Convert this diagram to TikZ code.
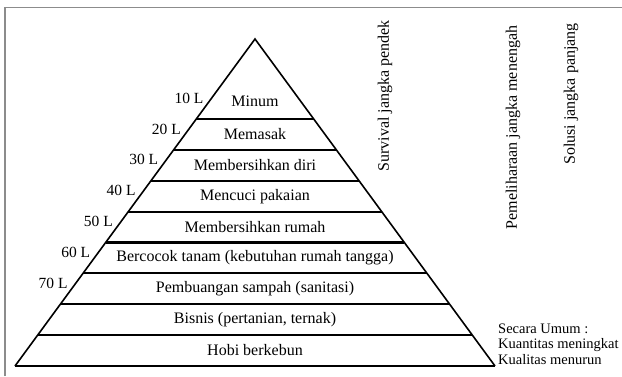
\documentclass[tikz,border=0pt]{standalone}
\usepackage{fontspec}
\setmainfont{Liberation Serif}
\usetikzlibrary{calc}
\begin{document}
\begin{tikzpicture}[x=1pt,y=-1pt,
  side/.style={line width=1.6pt, line join=miter},
  divider/.style={line width=2.2pt},
  band/.style={font=\fontsize{16}{18}\selectfont, inner sep=0pt},
  vol/.style={font=\fontsize{15.5}{17}\selectfont, inner sep=0pt, anchor=south east},
  vert/.style={font=\fontsize{16}{18}\selectfont, rotate=90, inner sep=0pt},
  note/.style={font=\fontsize{14.5}{15.5}\selectfont, align=left, anchor=west, inner sep=0pt},
  frame/.style={draw=black!45, line width=1.4pt}]
\useasboundingbox (0,0) rectangle (622,376);
% frame
\coordinate (f1) at (5,376);
\coordinate (f2) at (5,7.5);
\coordinate (f3) at (622,7.5);
\draw[frame] (f1) -- (f2) -- (f3);
% pyramid
\coordinate (apex) at (255,39);
\coordinate (bl) at (15,366);
\coordinate (br) at (495,366);
\draw[side] (bl) -- (apex) -- (br);
\draw[divider] (bl) -- (br);
\foreach \k in {0,...,7}{
  \pgfmathsetmacro{\yy}{119+30.875*\k}
  \pgfmathsetmacro{\tt}{(\yy-39)/327}
  \coordinate (l\k) at ($(apex)!\tt!(bl)$);
  \coordinate (r\k) at ($(apex)!\tt!(br)$);
  \draw[divider] (l\k) -- (r\k);
}
% volume labels
\foreach \k/\lab in {0/10,1/20,2/30,3/40,4/50,5/60,6/70}{
  \pgfmathsetmacro{\yy}{119+30.875*\k-15.5}
  \pgfmathsetmacro{\tt}{(\yy-39)/327}
  \coordinate (v\k) at ($(apex)!\tt!(bl)$);
  \node[vol] (lab\k) at ($(v\k)+(-4,0)$) {\lab\ L};
}
% band texts
\node[band] (t0) at (255,101) {Minum};
\node[band] (t1) at (255,134.4) {Memasak};
\node[band] (t2) at (255,165.3) {Membersihkan diri};
\node[band] (t3) at (255,196.2) {Mencuci pakaian};
\node[band] (t4) at (255,227) {Membersihkan rumah};
\node[band] (t5) at (255,257.9) {Bercocok tanam (kebutuhan rumah tangga)};
\node[band] (t6) at (255,288.8) {Pembuangan sampah (sanitasi)};
\node[band] (t7) at (255,319.7) {Bisnis (pertanian, ternak)};
\node[band] (t8) at (255,350.5) {Hobi berkebun};
% vertical texts
\node[vert] (s1) at (385,96) {Survival jangka pendek};
\node[vert] (s2) at (513,127.5) {Pemeliharaan jangka menengah};
\node[vert] (s3) at (571,94) {Solusi jangka panjang};
% note
\node[note] (n1) at (498,344) {Secara Umum :\\Kuantitas meningkat\\Kualitas menurun};
\end{tikzpicture}
\end{document}
